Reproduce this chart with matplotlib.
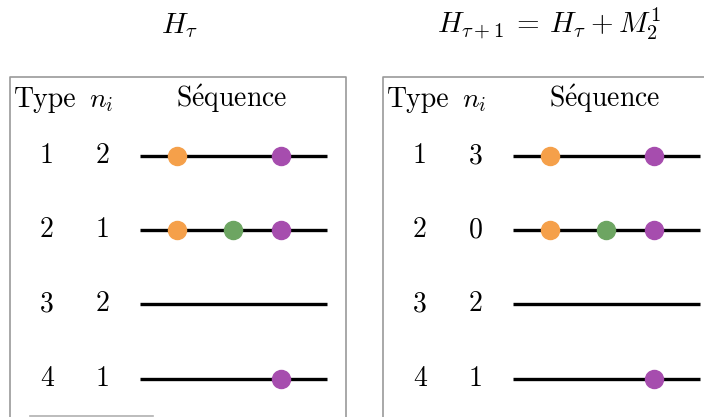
import numpy as np
import matplotlib
matplotlib.use('Agg')
import matplotlib.pyplot as plt

plt.rcParams['font.family'] = ['cmr10', 'DejaVu Serif']
plt.rcParams['mathtext.fontset'] = 'cm'
plt.rcParams['axes.unicode_minus'] = False

# data
titles = [r'$H_\tau$', r'$H_{\tau+1}\:=\:H_\tau\:+\:M_2^1$']
header = ['Type', r'$n_i$', r'S$\acute{\mathrm{e}}$quence']
types = [1, 2, 3, 4]
n_before = [2, 1, 2, 1]
n_after = [3, 0, 2, 1]
# events on each sequence: (slot, colour name)
seq_events = [
    [(0, 'orange'), (2, 'purple')],
    [(0, 'orange'), (1, 'green'), (2, 'purple')],
    [],
    [(2, 'purple')],
]
colors = {'orange': '#F5A04A', 'green': '#6DA562', 'purple': '#A64DAE'}

# layout (pixels)
W, H = 704, 417
box_left = [10, 383]
box_right = [346, 712]
title_x = [179, 549]
box_top = 77
row_y = [156, 230, 304, 379]
slot_x = [37, 93, 141]
line_x0, line_x1 = 130, 317

fig = plt.figure(figsize=(W / 100, H / 100), dpi=100)
ax = fig.add_axes([0, 0, 1, 1])
ax.set_xlim(0, W)
ax.set_ylim(H, 0)
ax.axis('off')

fs = 20
for b, (x0, x1) in enumerate(zip(box_left, box_right)):
    # box edges
    ax.plot([x0, x0, x1, x1], [H + 5, box_top, box_top, H + 5], color='#9a9a9a', lw=1.2)
    ax.text(title_x[b], 33, titles[b], fontsize=21, ha='center', va='baseline')

    ax.text(x0 + 4, 107, header[0], fontsize=fs, ha='left', va='baseline')
    ax.text(x0 + 91, 107, header[1], fontsize=fs, ha='center', va='baseline')
    ax.text(x0 + 222, 107, header[2], fontsize=fs, ha='center', va='baseline')

    counts = n_before if b == 0 else n_after
    for i, t in enumerate(types):
        y = row_y[i]
        ax.text(x0 + 37, y, str(t), fontsize=fs, ha='center', va='center')
        ax.text(x0 + 93, y, str(counts[i]), fontsize=fs, ha='center', va='center')
        ax.plot([x0 + line_x0, x0 + line_x1], [y, y], color='black', lw=2.4,
                solid_capstyle='butt', zorder=2)
        for slot, c in seq_events[i]:
            ax.plot(x0 + line_x0 + slot_x[slot], y, 'o', ms=13,
                    color=colors[c], mec=colors[c], zorder=3)

# small fragment of the lower border visible in the left box
ax.plot([30, 153], [416, 416], color='#b0b0b0', lw=1.2)

fig.savefig('out.png', dpi=100)
